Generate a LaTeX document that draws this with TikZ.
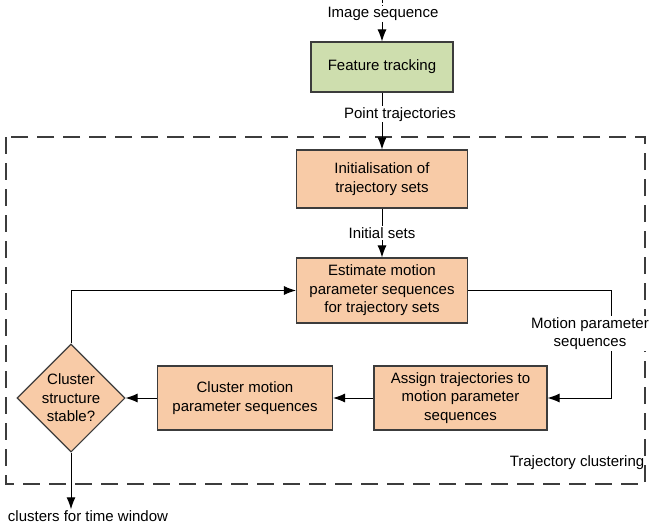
\documentclass[tikz,border=0pt]{standalone}
\usepackage{fontspec}
\setmainfont{Liberation Sans}
\usepackage{xcolor}
\usepackage{tikz}
\usetikzlibrary{shapes.geometric,arrows.meta,positioning,calc}

\definecolor{boxline}{HTML}{3C3C3C}
\definecolor{trackgreen}{HTML}{CEDEAE}
\definecolor{steporange}{HTML}{F8CBA7}

\tikzset{
  procbox/.style={draw=boxline, line width=1.1pt, rectangle, align=center,
    inner sep=2pt, fill=steporange},
  decision/.style={draw=boxline, line width=1.1pt, diamond, aspect=1,
    inner sep=0pt, align=center, fill=steporange,
    minimum width=108pt, minimum height=108pt},
  flow/.style={draw=black, line width=1pt, -{Latex[length=12pt,width=9pt]}},
  lbl/.style={fill=white, inner sep=1pt, align=center},
}

\begin{document}
\begin{tikzpicture}[x=1pt, y=-1pt, font=\fontsize{15}{18.5}\selectfont]
        \useasboundingbox (0,0) rectangle (653,527);

        % Frame round the clustering stage
        \draw[boxline, line width=1.1pt, dash pattern=on 17pt off 9pt]
          (6,137) rectangle (645,484);
        \node[anchor=center] (clustername) at (577,463) {Trajectory clustering};

        % Input
        \coordinate (src) at (382,0);
        \node[inner sep=1pt] (imgseq) at (383,14) {Image sequence};
        \node[procbox, fill=trackgreen, minimum width=142pt, minimum height=50pt]
          (track) at (382,67) {Feature tracking};

        % Process steps
        \node[procbox, minimum width=171pt, minimum height=58pt]
          (init) at (382,179) {Initialisation of\\trajectory sets};
        \node[procbox, minimum width=171pt, minimum height=65pt]
          (estimate) at (382,290.5) {Estimate motion\\parameter sequences\\for trajectory sets};
        \node[procbox, minimum width=173pt, minimum height=64pt]
          (assign) at (460.5,398) {Assign trajectories to\\motion parameter\\sequences};
        \node[procbox, minimum width=175pt, minimum height=64pt]
          (cluster) at (245,398) {Cluster motion\\parameter sequences};
        \node[decision] (stable) at (71,398) {Cluster\\structure\\stable?};

        % Output
        \node[inner sep=1pt] (result) at (88,516) {clusters for time window};

        % Connectors
        \draw[black, line width=1pt, densely dashed] (src) -- (imgseq.north -| src);
        \draw[flow] (imgseq.south -| track) -- (track);
        \draw[flow] (track) -- (init)
          node[lbl, pos=0.38, xshift=18pt] {Point trajectories};
        \draw[flow] (init) -- (estimate) node[lbl, midway] {Initial sets};
        \coordinate (bend) at (611,290.5);
        \draw[flow] (estimate) -- (bend) |- (assign)
          node[lbl, pos=0.2, xshift=-21pt] {Motion parameter\\sequences};
        \draw[flow] (assign) -- (cluster);
        \draw[flow] (cluster) -- (stable);
        \draw[flow] (stable) |- (estimate);
        \draw[flow] (stable) -- (stable |- result.north);
      \end{tikzpicture}
\end{document}
